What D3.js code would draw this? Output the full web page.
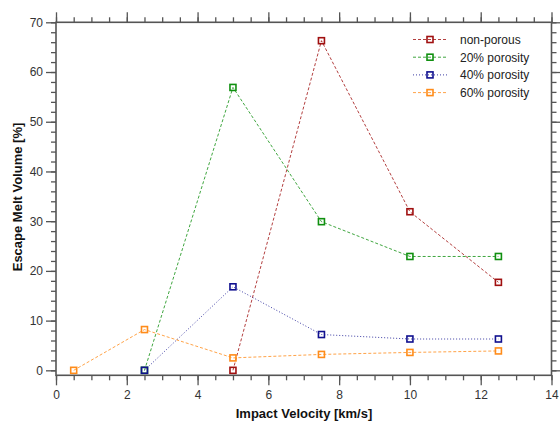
<!DOCTYPE html>
<html><head><meta charset="utf-8">
<script src="https://cdn.jsdelivr.net/npm/d3@7"></script>
<style>body{margin:0;background:#fff}svg{display:block}</style>
</head><body>
<svg id="c" width="560" height="424"></svg>
<script>
const seriesNames = ["non-porous", "20% porosity", "40% porosity", "60% porosity"];
const seriesColors = ["#a01010", "#109010", "#10108f", "#ff8c1a"];
const seriesDash = ["3,2", "3,2", "1,2", "3,2"];
const xNonPorous = [5, 7.5, 10, 12.5];
const yNonPorous = [0, 66.3, 31.9, 17.7];
const x20 = [2.5, 5, 7.5, 10, 12.5];
const y20 = [0, 56.9, 29.9, 22.9, 22.9];
const x40 = [2.5, 5, 7.5, 10, 12.5];
const y40 = [0, 16.8, 7.2, 6.3, 6.3];
const x60 = [0.5, 2.5, 5, 7.5, 10, 12.5];
const y60 = [0, 8.2, 2.5, 3.2, 3.6, 3.9];
const xTicks = [0, 2, 4, 6, 8, 10, 12, 14];
const yTicks = [0, 10, 20, 30, 40, 50, 60, 70];

const xs = [xNonPorous, x20, x40, x60];
const ys = [yNonPorous, y20, y40, y60];

const svg = d3.select("#c");
const L = 56, R = 551.5, T = 22.3, B = 375.3;
const x = d3.scaleLinear().domain([0, 14]).range([L, R]);
const y = d3.scaleLinear().domain([-1, 70]).range([B, T]);
const axisColor = "#555";
const font = "Liberation Sans, Arial, sans-serif";

function styleAxis(g){
  g.select(".domain").remove();
  g.selectAll("line").attr("stroke", axisColor).attr("stroke-width", 1.3);
  g.selectAll("text").attr("font-family", font).attr("font-size", 12).attr("fill", "#333");
}
const xMinor = d3.range(0, 14.01, 0.5);
const yMinor = d3.range(0, 70.01, 2);

// bottom
svg.append("g").attr("transform", `translate(0,${B})`).call(d3.axisBottom(x).tickValues(xMinor).tickSize(5).tickFormat("")).call(styleAxis);
svg.append("g").attr("transform", `translate(0,${B})`).call(d3.axisBottom(x).tickValues(xTicks).tickSize(10).tickPadding(5).tickFormat(d3.format("d"))).call(styleAxis);
// top
svg.append("g").attr("transform", `translate(0,${T})`).call(d3.axisTop(x).tickValues(xMinor).tickSize(5).tickFormat("")).call(styleAxis);
svg.append("g").attr("transform", `translate(0,${T})`).call(d3.axisTop(x).tickValues(xTicks).tickSize(10).tickFormat("")).call(styleAxis);
// left
svg.append("g").attr("transform", `translate(${L},0)`).call(d3.axisLeft(y).tickValues(yMinor).tickSize(5).tickFormat("")).call(styleAxis);
svg.append("g").attr("transform", `translate(${L},0)`).call(d3.axisLeft(y).tickValues(yTicks).tickSize(10).tickPadding(3).tickFormat(d3.format("d"))).call(styleAxis);
// right
svg.append("g").attr("transform", `translate(${R},0)`).call(d3.axisRight(y).tickValues(yMinor).tickSize(5).tickFormat("")).call(styleAxis);
svg.append("g").attr("transform", `translate(${R},0)`).call(d3.axisRight(y).tickValues(yTicks).tickSize(10).tickFormat("")).call(styleAxis);

svg.append("rect").attr("x", L).attr("y", T).attr("width", R - L).attr("height", B - T)
  .attr("fill", "none").attr("stroke", axisColor).attr("stroke-width", 1.6);

// series
const line = d3.line().x(d => x(d[0])).y(d => y(d[1]));
seriesNames.forEach((name, i) => {
  const pts = xs[i].map((v, j) => [v, ys[i][j]]);
  svg.append("path").datum(pts).attr("d", line).attr("fill", "none")
    .attr("stroke", seriesColors[i]).attr("stroke-width", 1).attr("stroke-opacity", 0.8)
    .attr("stroke-dasharray", seriesDash[i]);
  svg.append("g").selectAll("rect").data(pts).join("rect")
    .attr("x", d => x(d[0]) - 3).attr("y", d => y(d[1]) - 3).attr("width", 6).attr("height", 6)
    .attr("fill", "none").attr("stroke", seriesColors[i]).attr("stroke-width", 1.6);
});

// legend
const lg = svg.append("g");
seriesNames.forEach((name, i) => {
  const yy = 39.5 + i * 17.7;
  lg.append("line").attr("x1", 413).attr("x2", 448).attr("y1", yy).attr("y2", yy)
    .attr("stroke", seriesColors[i]).attr("stroke-width", 1).attr("stroke-opacity", 0.8)
    .attr("stroke-dasharray", seriesDash[i]);
  lg.append("rect").attr("x", 427).attr("y", yy - 3).attr("width", 6).attr("height", 6)
    .attr("fill", "none").attr("stroke", seriesColors[i]).attr("stroke-width", 1.6);
  lg.append("text").attr("x", 460).attr("y", yy + 4.3).text(name)
    .attr("font-family", font).attr("font-size", 12).attr("fill", "#222");
});

// titles
svg.append("text").attr("x", 304).attr("y", 418).attr("text-anchor", "middle")
  .attr("font-family", font).attr("font-size", 13).attr("font-weight", "bold").attr("fill", "#111")
  .text("Impact Velocity [km/s]");
svg.append("text").attr("transform", "translate(22,197) rotate(-90)").attr("text-anchor", "middle")
  .attr("font-family", font).attr("font-size", 13).attr("font-weight", "bold").attr("fill", "#111")
  .text("Escape Melt Volume [%]");
</script>
</body></html>
